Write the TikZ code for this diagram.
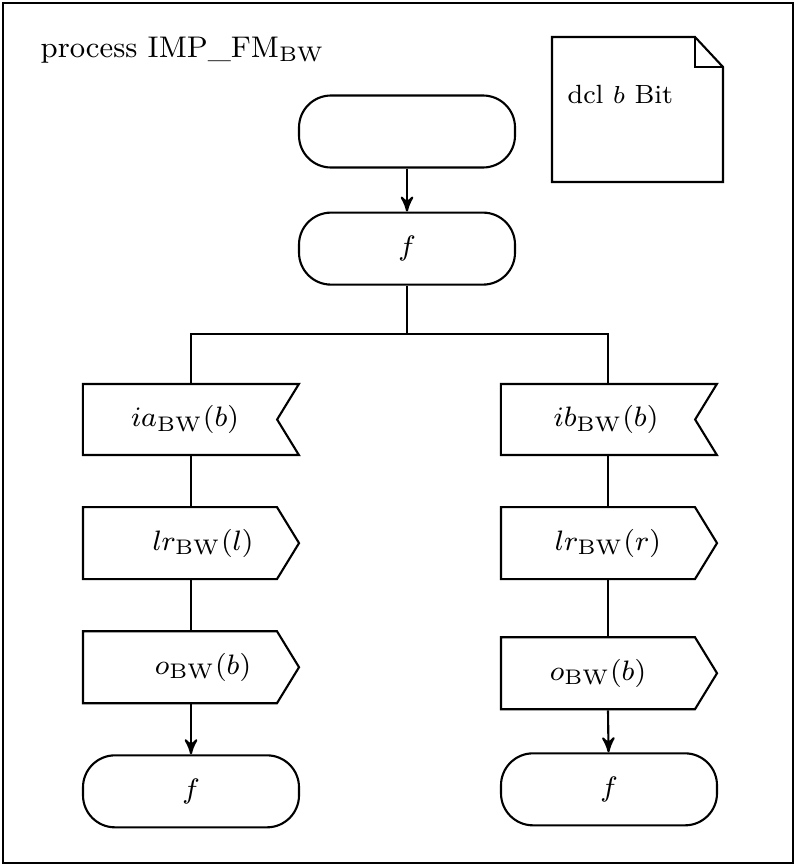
\documentclass[tikz,border=0pt]{standalone}
\usepackage{tikz}
\usetikzlibrary{arrows, shapes.symbols, positioning}
\newcommand{\sdlfont}{\fontsize{8.5}{10}\selectfont}
\tikzset{
  sdlstate/.style={draw, semithick, rounded corners=0.32cm, minimum width=2.16cm, minimum height=0.72cm},
  sdlinput/.style={draw, semithick, signal, signal to=nowhere, signal from=east, signal pointer angle=117, minimum width=2.16cm, minimum height=0.71cm},
  sdloutput/.style={draw, semithick, signal, signal to=east, signal pointer angle=117, minimum width=2.16cm, minimum height=0.72cm}
}

\begin{document}
\begin{tikzpicture}[>=stealth', node distance=0.5cm, font=\sdlfont]
\useasboundingbox (0,0) rectangle (7.96,-8.66);
\draw[thick] (0.03,-0.03) rectangle (7.93,-8.63);
\node[anchor=base west, inner sep=0pt] (title) at (0.40,-0.57) {process IMP\_FM$_{\mathrm{BW}}$};
% declaration
\draw[semithick] (5.52,-0.37) -- (6.95,-0.37) -- (7.23,-0.67) -- (7.23,-1.82) -- (5.52,-1.82) -- cycle;
\draw[semithick] (6.95,-0.37) |- (7.23,-0.67);
\node[anchor=base west, inner sep=0pt, font=\fontsize{7.5}{9}\selectfont] (dcl) at (5.67,-1.03) {dcl $b$ Bit};
% start and first state
\node[sdlstate] (start) at (4.07,-1.315) {};
\node[sdlstate, below=0.43cm of start] (fst) {$f$};
\coordinate[below=0.48cm of fst] (fork);
% left branch
\node[sdlinput] (ia) at (1.80,-4.195) {\hspace*{0.1cm}$ia_{\mathrm{BW}}(b)$};
\node[sdloutput, below=of ia] (lrl) {\hspace*{0.46cm}$lr_{\mathrm{BW}}(l)$};
\node[sdloutput, below=of lrl] (ol) {\hspace*{0.46cm}$o_{\mathrm{BW}}(b)$};
\node[sdlstate, below=of ol, xshift=0.11cm] (fl) {$f$};
% right branch
\node[sdlinput] (ib) at (5.98,-4.195) {\hspace*{0.16cm}$ib_{\mathrm{BW}}(b)$};
\node[sdloutput, below=of ib] (lrr) {\hspace*{0.2cm}$lr_{\mathrm{BW}}(r)$};
\node[sdloutput, below=0.56cm of lrr] (or) {$o_{\mathrm{BW}}(b)$};
\node[sdlstate, below=0.42cm of or, xshift=0.11cm] (fr) {$f$};
% connections
\draw[->, semithick] (start) -- (fst);
\draw[semithick] (fst) -- (fork);
\draw[semithick] (fork) -| ([xshift=0.11cm]ia.north);
\draw[semithick] (fork) -| ([xshift=0.10cm]ib.north);
\draw[semithick] ([xshift=0.11cm]ia.south) -- ([xshift=0.11cm]lrl.north);
\draw[semithick] ([xshift=0.11cm]lrl.south) -- ([xshift=0.11cm]ol.north);
\draw[->, semithick] ([xshift=0.11cm]ol.south) -- (fl);
\draw[semithick] ([xshift=0.10cm]ib.south) -- ([xshift=0.10cm]lrr.north);
\draw[semithick] ([xshift=0.10cm]lrr.south) -- ([xshift=0.10cm]or.north);
\draw[->, semithick] ([xshift=0.10cm]or.south) -- (fr);
\end{tikzpicture}
\end{document}
